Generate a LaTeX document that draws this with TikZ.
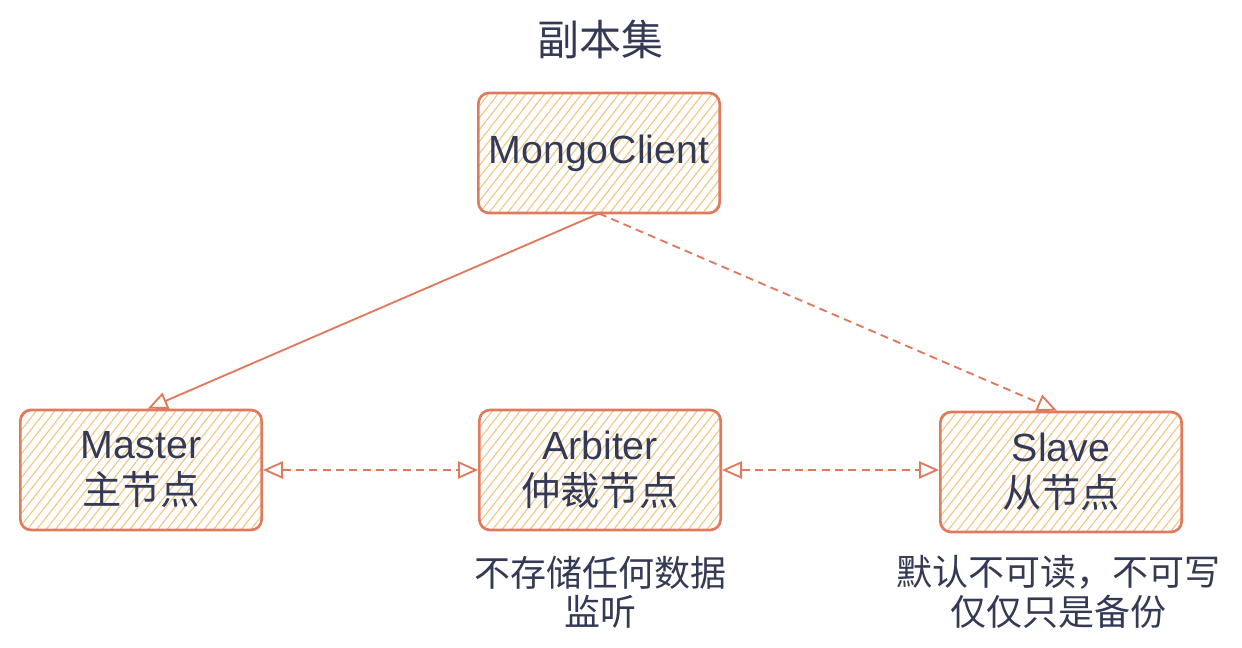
\documentclass[tikz,border=0pt]{standalone}
\usepackage{fontspec}
\setmainfont{Liberation Sans}
\newfontfamily\cjk{Noto Sans CJK SC}
\usetikzlibrary{arrows.meta,patterns.meta}
\definecolor{edgered}{HTML}{E07A5F}
\definecolor{hatchc}{HTML}{F3C27C}
\definecolor{ink}{HTML}{343A55}

\begin{document}
\begin{tikzpicture}[x=0.75pt,y=-0.75pt]
\tikzstyle{block} = [rectangle, draw=edgered, line width=2pt, rounded corners=8pt,
pattern={Lines[angle=52,distance=5.5pt,line width=0.8pt]}, pattern color=hatchc,
text=ink, align=center, minimum width=181pt, minimum height=90pt,
font=\fontsize{29.5}{34.5}\selectfont]
\tikzstyle{note} = [text=ink, align=center, font=\cjk\fontsize{27}{29.5}\selectfont]
\tikzstyle{line} = [draw=edgered, line width=1.4pt, -{Triangle[open,length=15pt,width=13pt]}]
\tikzstyle{dline} = [line, dash pattern=on 6pt off 4pt]
\tikzstyle{bline} = [dline, {Triangle[open,length=15pt,width=13pt]}-{Triangle[open,length=15pt,width=13pt]}]
\useasboundingbox (0,0) rectangle (1242,648);
% title
\node [note, font=\cjk\fontsize{31.5}{34}\selectfont] (title) at (600,40) {副本集};
% row 1
\node [block] (client) at (599,153) {MongoClient};
% row 2
\node [block] (master) at (141,470) {Master\\{\cjk 主节点}};
\node [block] (arbiter) at (600,470) {Arbiter\\{\cjk 仲裁节点}};
\node [block] (slave) at (1061,472) {Slave\\{\cjk 从节点}};
% notes
\node [note] (arbnote) at (600,592) {不存储任何数据\\监听};
\node [note] (slavenote) at (1058,592) {默认不可读，不可写\\仅仅只是备份};
% connectors
\path [line] (client.south) -- ([xshift=5pt]master.north);
\path [dline] (client.south) -- ([xshift=-3pt]slave.north);
\path [bline] (master.east) -- (arbiter.west);
\path [bline] (arbiter.east) -- (slave.west |- arbiter.east);
\end{tikzpicture}
\end{document}
